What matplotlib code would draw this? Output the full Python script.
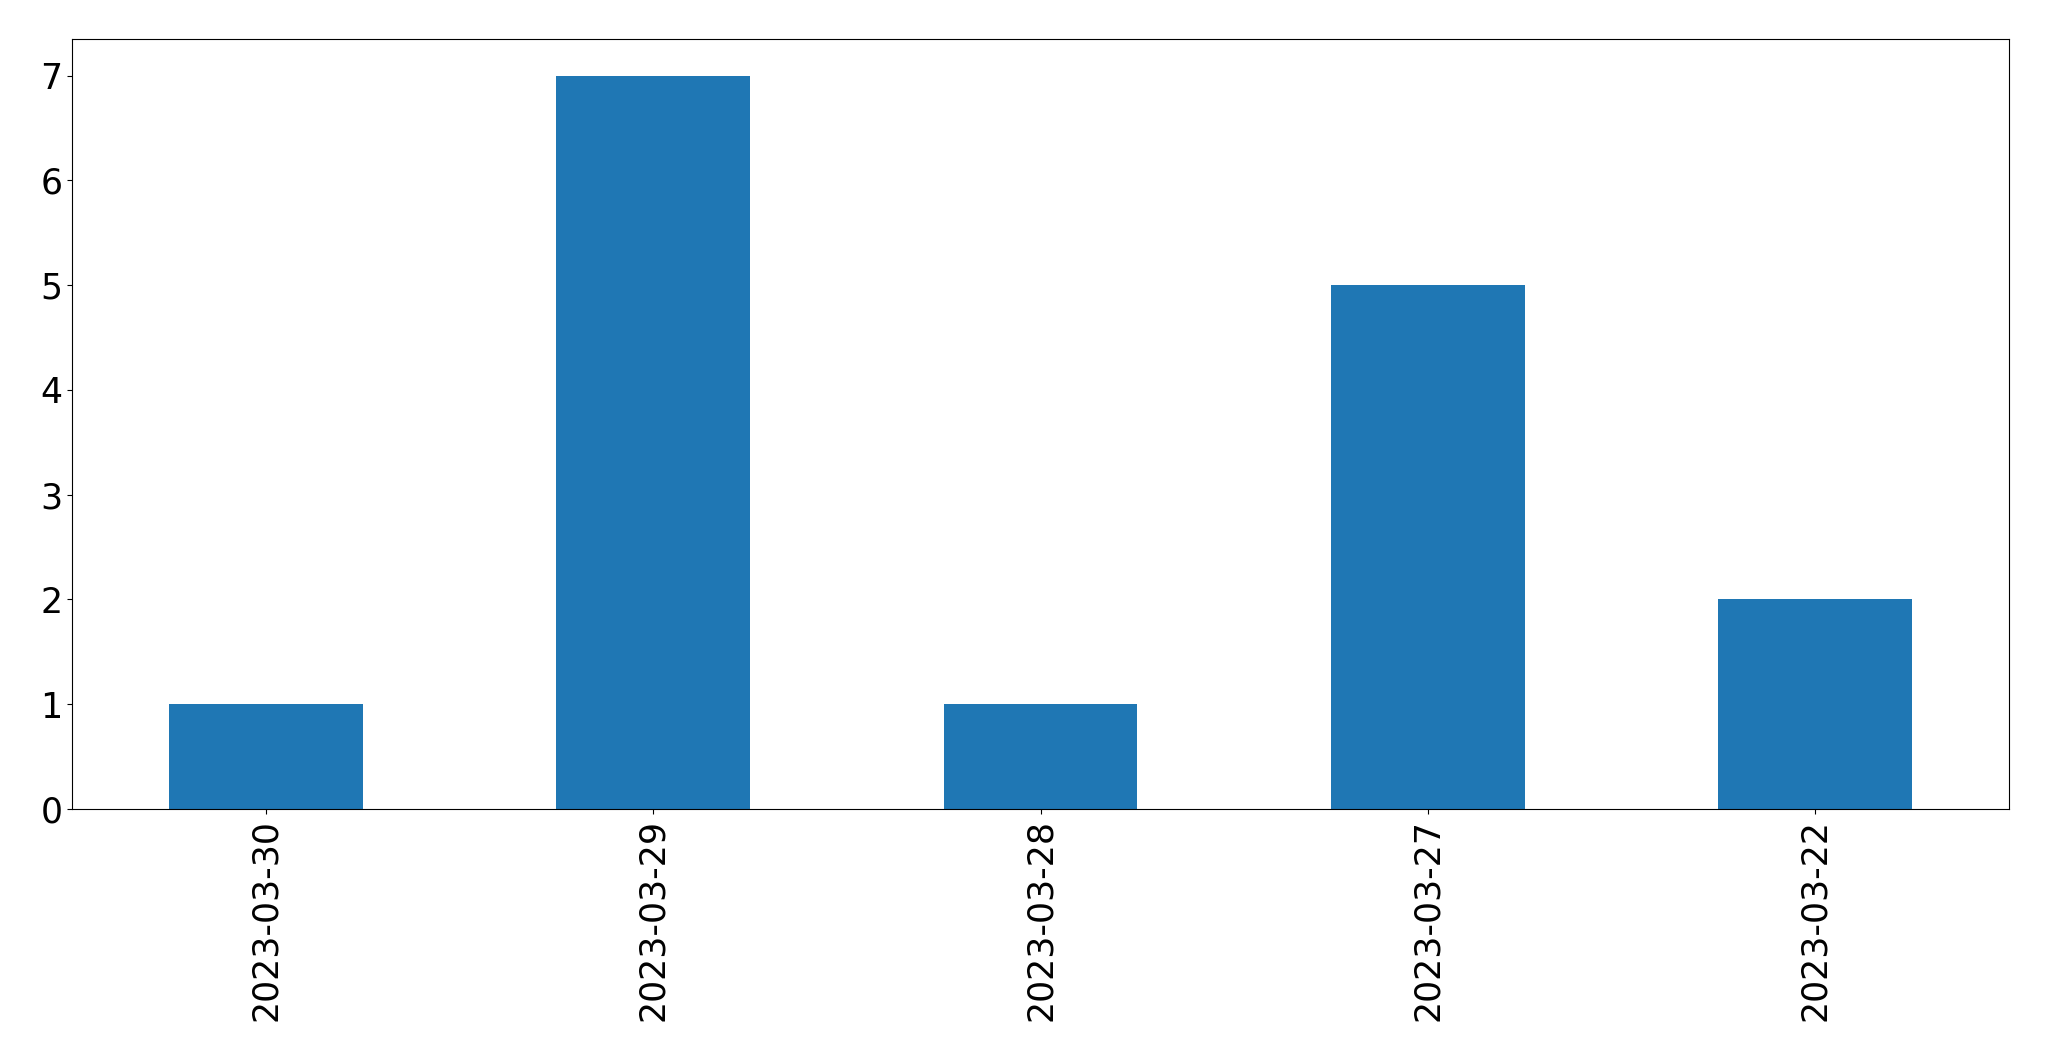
import matplotlib
matplotlib.use("Agg")
import matplotlib.pyplot as plt

dates = ["2023-03-30", "2023-03-29", "2023-03-28", "2023-03-27", "2023-03-22"]
counts = [1, 7, 1, 5, 2]

fig = plt.figure(figsize=(20.49, 10.61), dpi=100)
ax = fig.add_axes([72/2049, 1 - 809/1061, (2009-72)/2049, (809-39)/1061])
x = list(range(len(dates)))
ax.bar(x, counts, width=0.5, color="#1f77b4")
ax.set_xlim(-0.5, len(dates) - 0.5)
ax.set_ylim(0, max(counts) * 1.05)
ax.set_xticks(x)
ax.set_xticklabels(dates, rotation=90)
ax.tick_params(labelsize=25)
fig.savefig("out.png", dpi=100)
